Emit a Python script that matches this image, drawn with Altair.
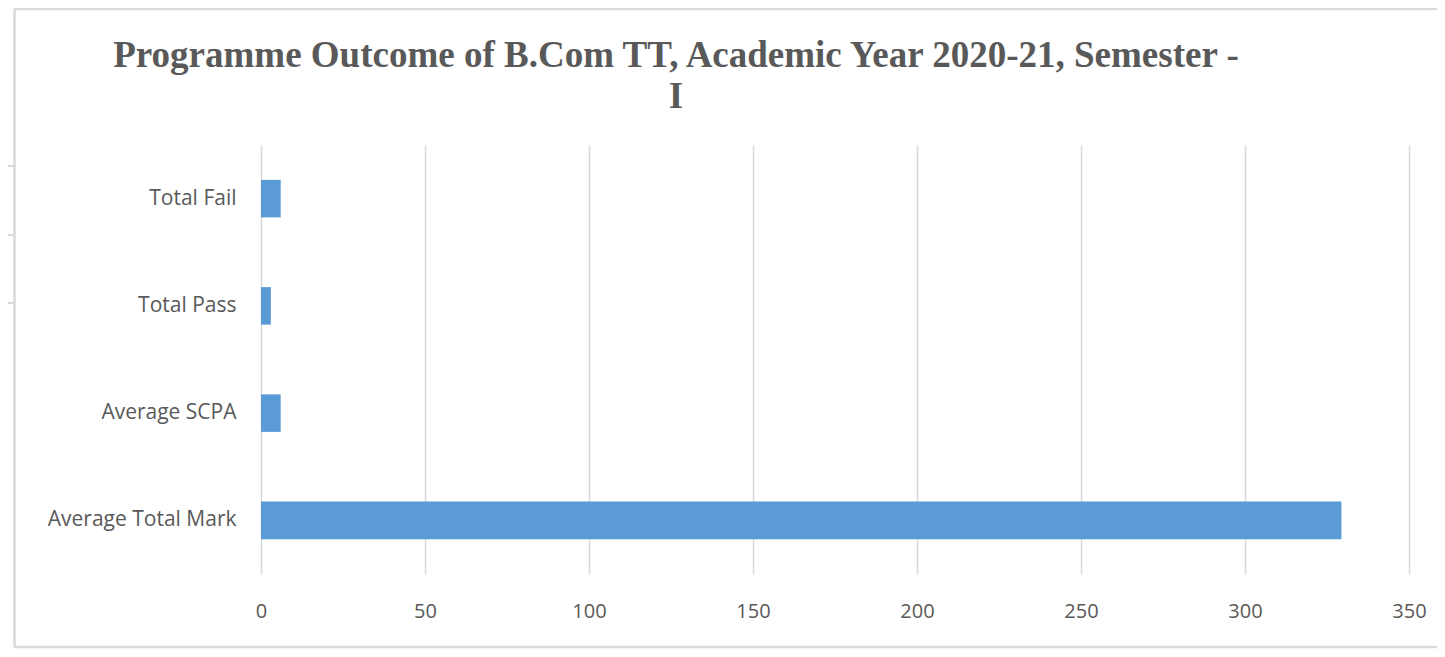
import altair as alt
import pandas as pd

categories = ["Total Fail", "Total Pass", "Average SCPA", "Average Total Mark"]
values = [6, 3, 6, 329.4]
x_ticks = [0, 50, 100, 150, 200, 250, 300, 350]
title_lines = "Programme Outcome of B.Com TT, Academic Year 2020-21, Semester -\nI"

df = pd.DataFrame({"category": categories, "value": values})
dummy = pd.DataFrame({"a": [0]})

GRAY = "#d9d9d9"
TEXT = "#595959"

bars = alt.Chart(df).mark_bar(color="#5b9bd5").encode(
    x=alt.X("value:Q",
            scale=alt.Scale(domain=[0, 350], nice=False),
            axis=alt.Axis(values=x_ticks, title=None, grid=True, gridColor=GRAY,
                          gridWidth=1.5, domain=False, ticks=False, labelFlush=False,
                          labelFont="Open Sans", labelFontSize=20, labelColor=TEXT,
                          labelPadding=27)),
    y=alt.Y("category:N", sort=categories,
            scale=alt.Scale(paddingInner=0.65, paddingOuter=0.325),
            axis=alt.Axis(title=None, grid=False, domain=False, ticks=False,
                          labelFont="Open Sans", labelFontSize=21, labelColor=TEXT,
                          labelPadding=25, labelLimit=400)),
)

title = alt.Chart(dummy).mark_text(
    font="Liberation Serif", fontSize=37, fontWeight="bold", color=TEXT,
    align="center", baseline="alphabetic", lineBreak="\n", lineHeight=41,
).encode(x=alt.value(415), y=alt.value(-78), text=alt.value(title_lines))

def rule(x1, x2, y1, y2, w=2.5):
    return alt.Chart(dummy).mark_rule(color=GRAY, strokeWidth=w).encode(
        x=alt.value(x1), x2=alt.value(x2), y=alt.value(y1), y2=alt.value(y2))

frame = [
    rule(-246.5, 1200, -136, -136),
    rule(-246.5, -246.5, -136, 502),
    rule(-246.5, 1200, 502, 502),
    rule(-262, -248, 21, 21, 2),
    rule(-262, -248, 90, 90, 2),
    rule(-262, -248, 158, 158, 2),
]

chart = alt.layer(bars, title, *frame).properties(
    width=1148,
    height=429,
    autosize=alt.AutoSizeParams(type="none"),
    padding={"left": 253, "top": 137, "right": 28, "bottom": 75},
).configure_view(stroke=None)

chart.save("out.html", embed_options={"renderer": "svg", "actions": False})
